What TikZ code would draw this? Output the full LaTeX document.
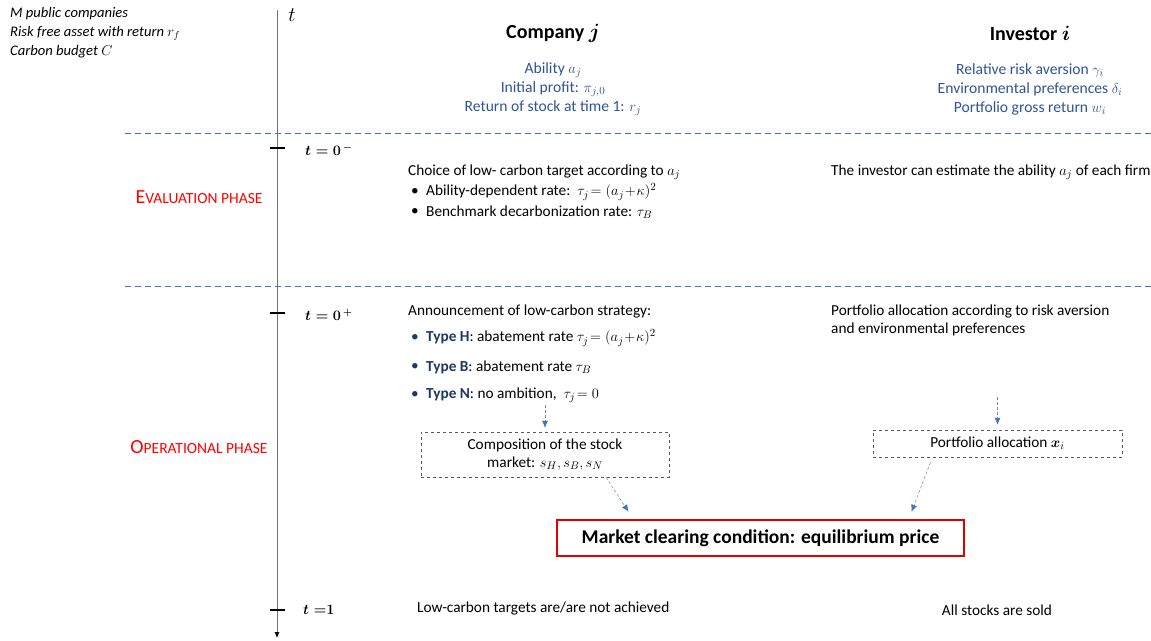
\documentclass[tikz,border=0pt]{standalone}
\usepackage{amsmath}
\usepackage{fontspec}
\setmainfont{Carlito}
\usetikzlibrary{arrows.meta}
\definecolor{infoblue}{RGB}{47,84,150}
\definecolor{typenavy}{RGB}{31,56,100}
\definecolor{sepblue}{RGB}{68,114,196}
\definecolor{flowgray}{RGB}{125,135,155}
\newcommand{\phasename}[2]{{\fontsize{20}{22}\selectfont #1}{\fontsize{15.5}{22}\selectfont #2}}

\begin{document}
\begin{tikzpicture}[x=1pt,y=-1pt,
  txt/.style={font=\fontsize{15.3}{18}\selectfont, inner sep=0pt, anchor=west},
  info/.style={txt, font=\fontsize{15.6}{18}\selectfont, text=infoblue, anchor=center},
  head/.style={font=\fontsize{20}{24}\selectfont\bfseries\boldmath, inner sep=0pt},
  phase/.style={text=red, inner sep=0pt},
  sep/.style={sepblue, dash pattern=on 6pt off 4pt, line width=0.9pt},
  tick/.style={line width=2.2pt},
  tlabel/.style={font=\fontsize{14.5}{17}\selectfont\boldmath, inner sep=0pt, anchor=west},
  dbox/.style={draw=black!65, dashed, font=\fontsize{15.3}{18}\selectfont, align=center, inner sep=0pt},
  flow/.style={flowgray, densely dashed, line width=0.5pt, -{Latex[length=7pt,width=6pt,color=sepblue]}},
  ]
\useasboundingbox (0,0) rectangle (1151,640);

% model setting
\node[txt, font=\fontsize{14.6}{17}\selectfont\itshape] (setm) at (10,14) {M public companies};
\node[txt, font=\fontsize{14.6}{17}\selectfont\itshape] (setr) at (10,33) {Risk free asset with return $r_f$};
\node[txt, font=\fontsize{14.6}{17}\selectfont\itshape] (setc) at (10,52) {Carbon budget $C$};

% time axis
\coordinate (ttop) at (277,10);
\coordinate (tbot) at (277,638);
\draw[black!55, line width=0.8pt, -{Latex[length=6pt,width=5pt,color=black]}] (ttop) -- (tbot);
\node[inner sep=0pt, font=\fontsize{22}{22}\selectfont] (tname) at (292,15) {$t$};
\foreach \y in {148,313,610} {
	\draw[tick] (270,\y) -- (285,\y);
}
\node[tlabel] (tminus) at (305,150) {$t=0^{\,-}$};
\node[tlabel] (tplus) at (305,315) {$t=0^{\,+}$};
\node[tlabel] (tone) at (303,610) {$t\;{=}1$};

% phase separators
\foreach \y in {133,286} {
	\draw[sep] (125,\y) -- (1151,\y);
}
\node[phase] (evalph) at (199,197) {\phasename{E}{VALUATION PHASE}};
\node[phase] (operph) at (199,447) {\phasename{O}{PERATIONAL PHASE}};

% agents
\node[head] (company) at (553,33) {Company $j$};
\node[head] (investor) at (1030,33) {Investor $i$};
\node[info] (ability) at (553,70) {Ability $a_j$};
\node[info] (profit) at (553,89) {Initial profit: $\pi_{j,0}$};
\node[info] (stockret) at (553,108) {Return of stock at time 1: $r_j$};
\node[info] (riskav) at (1030,70) {Relative risk aversion $\gamma_i$};
\node[info] (envpref) at (1030,89) {Environmental preferences $\delta_i$};
\node[info] (grossret) at (1030,108) {Portfolio gross return $w_i$};

% evaluation phase
\node[txt] (choice) at (408,172) {Choice of low- carbon target according to $a_j$};
\node[txt] at (411,192) {\textbullet};
\node[txt] (abrate) at (426,192) {Ability-dependent rate:\ \ $\tau_j\!= (a_j\!+\!\kappa)^2$};
\node[txt] at (411,212) {\textbullet};
\node[txt] (bmrate) at (426,212) {Benchmark decarbonization rate: $\tau_B$};
\node[txt] (estim) at (831,172) {The investor can estimate the ability $a_j$ of each firm};

% operational phase
\node[txt] (announce) at (408,311) {Announcement of low-carbon strategy:};
\foreach \y in {338,367,395} {
	\node[txt, text=typenavy] at (411,\y) {\textbullet};
}
\node[txt] (typeH) at (426,338) {\textbf{\color{typenavy}Type H}: abatement rate $\tau_j\!= (a_j\!+\!\kappa)^2$};
\node[txt] (typeB) at (426,367) {\textbf{\color{typenavy}Type B}: abatement rate $\tau_B$};
\node[txt] (typeN) at (426,395) {\textbf{\color{typenavy}Type N}: no ambition,\ \ $\tau_j\!= 0$};
\node[txt] (alloc1) at (831,311) {Portfolio allocation according to risk aversion};
\node[txt] (alloc2) at (831,329) {and environmental preferences};

\node[dbox, minimum width=248pt, minimum height=45pt] (compbox) at (545,454.5) {Composition of the stock\\market: $s_H, s_B, s_N$};
\node[dbox, minimum width=249pt, minimum height=27pt] (portbox) at (997.5,443.5) {Portfolio allocation $\boldsymbol{x}_i$};
\node[draw=red!90!black, line width=2.5pt, minimum width=407pt, minimum height=36pt, inner sep=0pt,
      font=\fontsize{19.5}{24}\selectfont\bfseries] (clearbox) at (760.5,538) {Market clearing condition: equilibrium price};

\draw[flow, shorten >=4pt] ([yshift=27pt]compbox.north) -- (compbox.north);
\draw[flow, shorten >=5pt] ([yshift=33pt]portbox.north) -- (portbox.north);
\draw[flow] ([xshift=61pt]compbox.south) -- ([xshift=-132pt,yshift=7pt]clearbox.north);
\draw[flow] ([xshift=-67pt,yshift=-5pt]portbox.south) -- ([xshift=151pt,yshift=7pt]clearbox.north);

% time 1
\node[txt] (achieved) at (417,608) {Low-carbon targets are/are not achieved};
\node[txt, anchor=center] (sold) at (997,610) {All stocks are sold};
\end{tikzpicture}
\end{document}
